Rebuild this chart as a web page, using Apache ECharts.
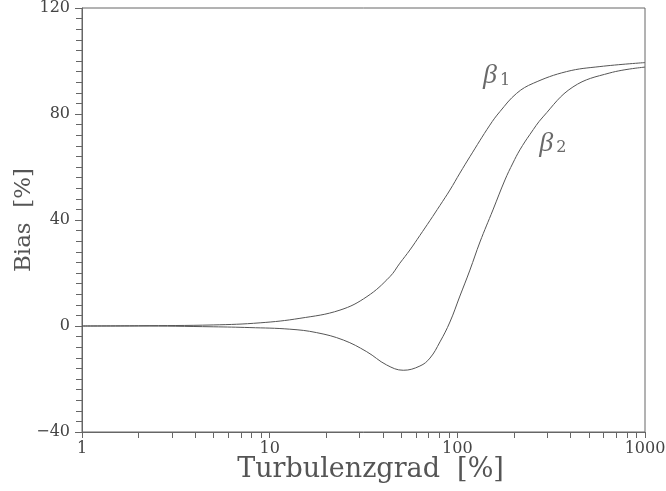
<!DOCTYPE html>
<html>
<head>
<meta charset="utf-8">
<script src="https://cdn.jsdelivr.net/npm/echarts@6/dist/echarts.min.js"></script>
<style>
  html, body { margin: 0; padding: 0; background: #fff; }
  #chart { width: 666px; height: 491px; }
</style>
</head>
<body>
<div id="chart"></div>
<script>
// values: [Turbulenzgrad %, Bias %]
const beta1 = [
  [1, 0], [2, 0.1], [5, 0.4], [8.9, 1.2], [14.5, 2.9], [23.7, 6], [33, 11.1],
  [43.7, 18.6], [49.4, 23.7], [55.9, 28.7], [63.2, 34.2], [71.5, 39.8], [80.8, 45.5],
  [91.3, 51.3], [103.2, 57.7], [116.7, 63.9], [149, 75.8], [168.6, 80.9],
  [207, 87.8], [254, 91.6], [382, 96], [575, 97.9], [1000, 99.4]
]
const beta2 = [
  [1, 0], [2, 0], [5, -0.3], [7.85, -0.6], [12.8, -1.2], [17.8, -2.5], [24.7, -5.3],
  [32.9, -9.7], [42, -14.7], [51.5, -16.7], [63.2, -15.1], [71.5, -12.1], [80.8, -6],
  [91.3, 1.5], [103.2, 11.3], [116.7, 21.1], [132, 31.7], [154.8, 43.8], [179.3, 55.1],
  [197.8, 61.5], [215.6, 66.5], [243.8, 72.3], [286, 78.9], [413, 90.2], [650, 95.5], [1000, 97.7]
]
const xMinorTicks = [2, 3, 4, 5, 6, 7, 8, 9, 20, 30, 40, 50, 60, 70, 80, 90, 200, 300, 400, 500, 600, 700, 800, 900]
const curveLabels = [
  { pos: [162, 94.3], text: '{b|β}{s|1}' },
  { pos: [323, 69], text: '{b|β}{s|2}' }
]

const font = 'DejaVu Serif'
const axisColor = '#666'
const textColor = '#444'

const chart = echarts.init(document.getElementById('chart'))

chart.setOption({
  animation: false,
  textStyle: { fontFamily: font },
  grid: {
    left: 82, right: 21, top: 8, bottom: 59,
    outerBoundsMode: 'none',
    containLabel: false,
    show: true, borderColor: axisColor, borderWidth: 1
  },
  xAxis: {
    type: 'log',
    logBase: 10,
    min: 1,
    max: 1000,
    name: 'Turbulenzgrad  [%]',
    nameLocation: 'middle',
    nameGap: 24,
    nameMoveOverlap: false,
    nameTextStyle: { fontFamily: font, fontSize: 27, color: '#555', padding: [0, 0, 0, 14] },
    axisLine: { onZero: false, lineStyle: { color: axisColor } },
    axisTick: { inside: false, length: 6, lineStyle: { color: axisColor } },
    axisLabel: { fontFamily: font, fontSize: 16, color: textColor, margin: 9, formatter: v => String(v) },
    splitLine: { show: false }
  },
  yAxis: {
    type: 'value',
    min: -40,
    max: 120,
    interval: 40,
    name: 'Bias  [%]',
    nameLocation: 'middle',
    nameGap: 46,
    nameMoveOverlap: false,
    nameRotate: 90,
    nameTextStyle: { fontFamily: font, fontSize: 23, color: '#555' },
    axisLine: { show: true, onZero: false, lineStyle: { color: axisColor } },
    axisTick: { inside: false, length: 7, lineStyle: { color: axisColor } },
    minorTick: { show: true, splitNumber: 10, length: 6, lineStyle: { color: axisColor } },
    axisLabel: { fontFamily: font, fontSize: 16, color: textColor, margin: 12, formatter: v => String(v).replace('-', '\u2212') },
    splitLine: { show: false }
  },
  series: [
    {
      name: 'beta1',
      type: 'line',
      data: beta1,
      smooth: 0.4,
      showSymbol: false,
      lineStyle: { color: '#555', width: 1 }
    },
    {
      name: 'beta2',
      type: 'line',
      data: beta2,
      smooth: 0.4,
      showSymbol: false,
      lineStyle: { color: '#555', width: 1 }
    },
    {
      // minor ticks 2..9 of each decade on the log axis
      name: 'xMinor',
      type: 'custom',
      clip: false,
      silent: true,
      data: xMinorTicks.map(v => [v, -40]),
      renderItem: (params, api) => {
        const p = api.coord([api.value(0), api.value(1)])
        const x = Math.round(p[0]) + 0.5
        return {
          type: 'line',
          shape: { x1: x, y1: p[1], x2: x, y2: p[1] + 6 },
          style: { stroke: axisColor, lineWidth: 1 }
        }
      }
    },
    {
      name: 'labels',
      type: 'scatter',
      symbolSize: 0,
      silent: true,
      data: curveLabels.map(l => ({ value: l.pos, label: { formatter: l.text } })),
      label: {
        show: true,
        position: 'inside',
        color: '#444',
        rich: {
          b: { fontFamily: 'Liberation Serif', fontStyle: 'italic', fontSize: 28, color: '#444' },
          s: { fontFamily: font, fontSize: 16, color: '#444', padding: [10, 0, 0, 3] }
        }
      }
    }
  ]
})
</script>
</body>
</html>
